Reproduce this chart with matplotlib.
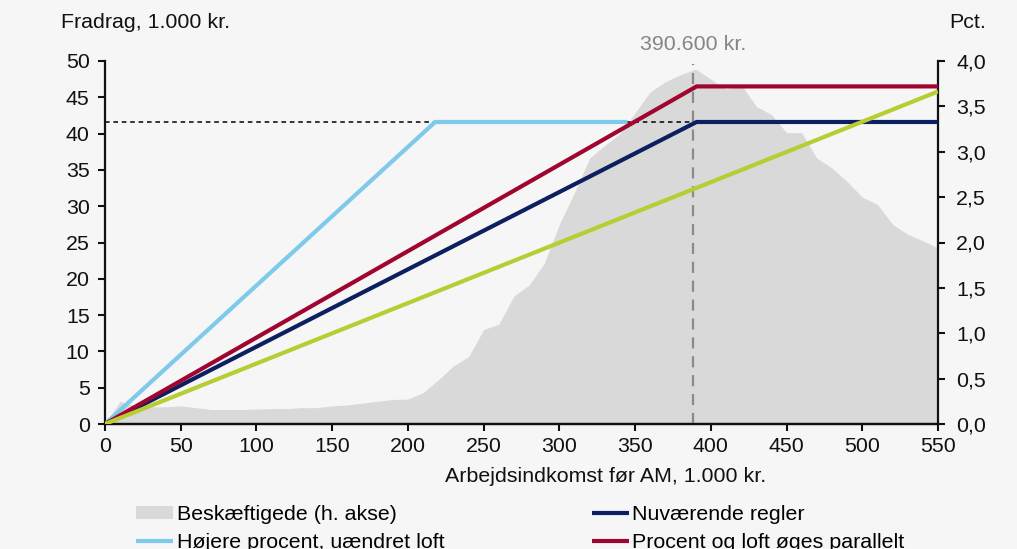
import matplotlib
matplotlib.use("Agg")
import matplotlib.pyplot as plt
import numpy as np

plt.rcParams['font.family'] = ['Liberation Sans', 'DejaVu Sans']

# ---- data ----
emp_x = [0, 10, 20, 30, 40, 50, 60, 70, 80, 90, 100, 110, 120, 130, 140, 150, 160, 170, 180, 190,
         200, 210, 220, 230, 240, 250, 260, 270, 280, 290, 300, 310, 320, 330, 340, 350, 360, 370,
         380, 390, 400, 410, 420, 430, 440, 450, 460, 470, 480, 490, 500, 510, 520, 530, 540, 550]
emp_pct = [0.00, 0.25, 0.20, 0.19, 0.19, 0.20, 0.18, 0.16, 0.16, 0.16, 0.165, 0.17, 0.17, 0.18, 0.18,
           0.20, 0.21, 0.23, 0.25, 0.27, 0.275, 0.345, 0.485, 0.64, 0.74, 1.04, 1.10, 1.41, 1.53, 1.77,
           2.20, 2.55, 2.93, 3.07, 3.20, 3.43, 3.66, 3.77, 3.85, 3.91, 3.80, 3.69, 3.74, 3.50, 3.41,
           3.21, 3.21, 2.93, 2.82, 2.67, 2.50, 2.42, 2.20, 2.09, 2.02, 1.94]

cur_x = [0, 390.6, 550]
cur_y = [0, 41.6, 41.6]

hi_x = [0, 218, 345]
hi_y = [0, 41.6, 41.6]

par_x = [0, 390.6, 550]
par_y = [0, 46.5, 46.5]

grn_x = [0, 550]
grn_y = [0, 45.8]

xticks = list(range(0, 551, 50))
yticks_l = list(range(0, 51, 5))
yticks_r = [0.0, 0.5, 1.0, 1.5, 2.0, 2.5, 3.0, 3.5, 4.0]
ref_x = 388
cap_level = 41.6

# ---- style ----
BG = '#f6f6f6'
C_FILL = '#d9d9d9'
C_NAVY = '#0c2060'
C_RED = '#a00530'
C_LBLUE = '#7dcaeb'
C_GREEN = '#b8cd33'
FS = 15.4

fig = plt.figure(figsize=(10.17, 5.49), dpi=100, facecolor=BG)
ax = fig.add_axes([105/1017, 1-424/549, (938-105)/1017, (424-61)/549])
ax2 = ax.twinx()
ax.set_zorder(ax2.get_zorder() + 1)
ax.patch.set_visible(False)
ax2.set_facecolor(BG)

ax2.fill_between(emp_x, emp_pct, 0, color=C_FILL, lw=0, label='Beskæftigede (h. akse)')
ax2.set_ylim(0, 4.0)
ax2.set_yticks(yticks_r)
ax2.set_yticklabels([f"{v:.1f}".replace('.', ',') for v in yticks_r])

ax.plot([0, ref_x], [cap_level, cap_level], color='black', lw=1.1, ls=(0, (3, 2.5)), zorder=2)
ax.plot([ref_x, ref_x], [0, 49.6], color='#8a8a8a', lw=1.6, ls=(0, (5, 3.5)), zorder=2.5)
l_hi, = ax.plot(hi_x, hi_y, color=C_LBLUE, lw=3, zorder=3, solid_capstyle='butt',
                label='Højere procent, uændret loft')
l_cur, = ax.plot(cur_x, cur_y, color=C_NAVY, lw=3, zorder=4, solid_capstyle='butt',
                 label='Nuværende regler')
l_par, = ax.plot(par_x, par_y, color=C_RED, lw=3, zorder=4, solid_capstyle='butt',
                 label='Procent og loft øges parallelt')
ax.plot(grn_x, grn_y, color=C_GREEN, lw=3, zorder=5, solid_capstyle='butt')

ax.set_xlim(0, 550)
ax.set_ylim(0, 50)
ax.set_xticks(xticks)
ax.set_yticks(yticks_l)

for a in (ax, ax2):
    a.spines['top'].set_visible(False)
    for s in ('left', 'right', 'bottom'):
        a.spines[s].set_linewidth(1.6)
        a.spines[s].set_color('#111111')
    a.tick_params(direction='out', length=5, width=1.5, labelsize=FS, colors='#111111', pad=4)
ax.tick_params(axis='y', pad=6)
ax2.tick_params(axis='y', pad=8)
ax.spines['right'].set_visible(False)
ax2.spines['left'].set_visible(False)

ax.text(ref_x, 52.3, '390.600 kr.', ha='center', va='center', fontsize=FS, color='#858585', clip_on=False)
fig.text(61/1017, 1-22/549, 'Fradrag, 1.000 kr.', ha='left', va='center', fontsize=FS, color='#111111')
fig.text(986/1017, 1-23/549, 'Pct.', ha='right', va='center', fontsize=FS, color='#111111')
fig.text(606/1017, 1-476/549, 'Arbejdsindkomst før AM, 1.000 kr.', ha='center', va='center',
         fontsize=FS, color='#111111')

fill_handle = plt.Rectangle((0, 0), 1, 1, color=C_FILL, lw=0)
leg = fig.legend([fill_handle, l_hi, l_cur, l_par],
                 ['Beskæftigede (h. akse)', 'Højere procent, uændret loft', 'Nuværende regler',
                  'Procent og loft øges parallelt'],
                 loc='upper left', bbox_to_anchor=(136/1017, 1-505/549), ncol=2, frameon=False,
                 fontsize=FS, handlelength=1.75, handletextpad=0.15, columnspacing=6.9,
                 labelspacing=0.42, handleheight=0.55, borderpad=0, borderaxespad=0)

fig.savefig('out.png', dpi=100, facecolor=BG)
